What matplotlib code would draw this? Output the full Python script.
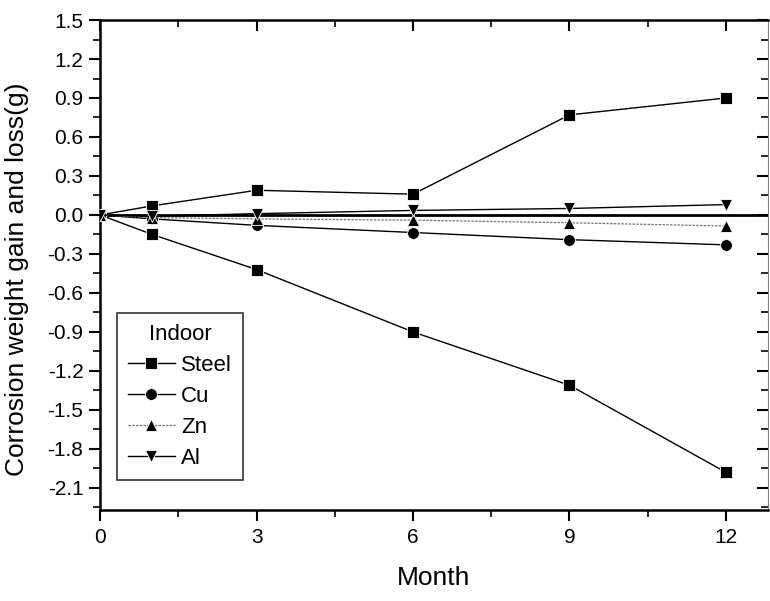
import matplotlib
matplotlib.use("Agg")
import matplotlib.pyplot as plt
from matplotlib.ticker import MultipleLocator, FormatStrFormatter

plt.rcParams['font.family'] = ['Liberation Sans', 'DejaVu Sans']
plt.rcParams['axes.unicode_minus'] = False

# Indoor exposure: corrosion weight change (g) by month
months = [0, 1, 3, 6, 9, 12]
steel_gain = [0.0, 0.07, 0.19, 0.16, 0.77, 0.90]
steel_loss = [0.0, -0.15, -0.42, -0.90, -1.31, -1.98]
cu = [0.0, -0.03, -0.08, -0.135, -0.19, -0.23]
zn = [0.0, -0.02, -0.03, -0.04, -0.06, -0.085]
al = [0.0, -0.01, 0.01, 0.035, 0.05, 0.08]

x_ticks = [0, 3, 6, 9, 12]
y_ticks = [1.5, 1.2, 0.9, 0.6, 0.3, 0.0, -0.3, -0.6, -0.9, -1.2, -1.5, -1.8, -2.1]

fig = plt.figure(figsize=(7.7, 6.01), dpi=100)
ax = fig.add_axes([0.130, 0.1514, 0.867, 0.8153])

ax.axhline(0, color='black', lw=2.0, zorder=1)

common = dict(color='black', lw=1.0, markersize=8.5, markeredgecolor='white',
              markeredgewidth=0.6, zorder=3)
ax.plot(months, steel_gain, marker='s', label='Steel', **common)
ax.plot(months, steel_loss, marker='s', **common)
ax.plot(months, cu, marker='o', label='Cu', **common)
zn_style = dict(common)
zn_style.update(color='0.45', markerfacecolor='black', lw=0.9, linestyle=(0, (2, 1)))
ax.plot(months, zn, marker='^', label='Zn', **zn_style)
ax.plot(months, al, marker='v', label='Al', **common)

ax.set_xlim(0, 12.8)
ax.set_ylim(-2.27, 1.5)
ax.set_xticks(x_ticks)
ax.set_yticks(y_ticks)
ax.yaxis.set_major_formatter(FormatStrFormatter('%.1f'))
ax.xaxis.set_minor_locator(MultipleLocator(1.5))
ax.yaxis.set_minor_locator(MultipleLocator(0.15))

ax.tick_params(axis='both', which='major', labelsize=15, width=1.5, length=8)
ax.tick_params(axis='both', which='minor', width=1.2, length=5)
ax.tick_params(axis='x', which='both', top=True, direction='out', pad=5)
ax.tick_params(axis='y', which='both', right=True, direction='out', pad=4)
for t in ax.xaxis.get_major_ticks() + ax.xaxis.get_minor_ticks():
    t.tick2line.set_marker(3)  # top ticks point into the plot
for t in ax.yaxis.get_major_ticks() + ax.yaxis.get_minor_ticks():
    t.tick2line.set_marker(0)  # right ticks point into the plot

for side in ['left', 'bottom', 'top']:
    ax.spines[side].set_linewidth(1.8)
ax.spines['right'].set_linewidth(0.8)
ax.spines['right'].set_color('0.5')

ax.set_xlabel('Month', fontsize=19)
ax.xaxis.set_label_coords(0.499, -0.114)
ax.set_ylabel('Corrosion weight gain and loss(g)', fontsize=19)
ax.yaxis.set_label_coords(-0.106, 0.47)

leg = ax.legend(title='Indoor', loc='lower left', bbox_to_anchor=(0.025, 0.061),
                borderaxespad=0, fontsize=16, title_fontsize=16, frameon=True,
                fancybox=False, edgecolor='black', handlelength=2.1,
                handletextpad=0.3, labelspacing=0.45, borderpad=0.5)
leg.get_frame().set_linewidth(1.2)

fig.savefig('out.png', dpi=100)
